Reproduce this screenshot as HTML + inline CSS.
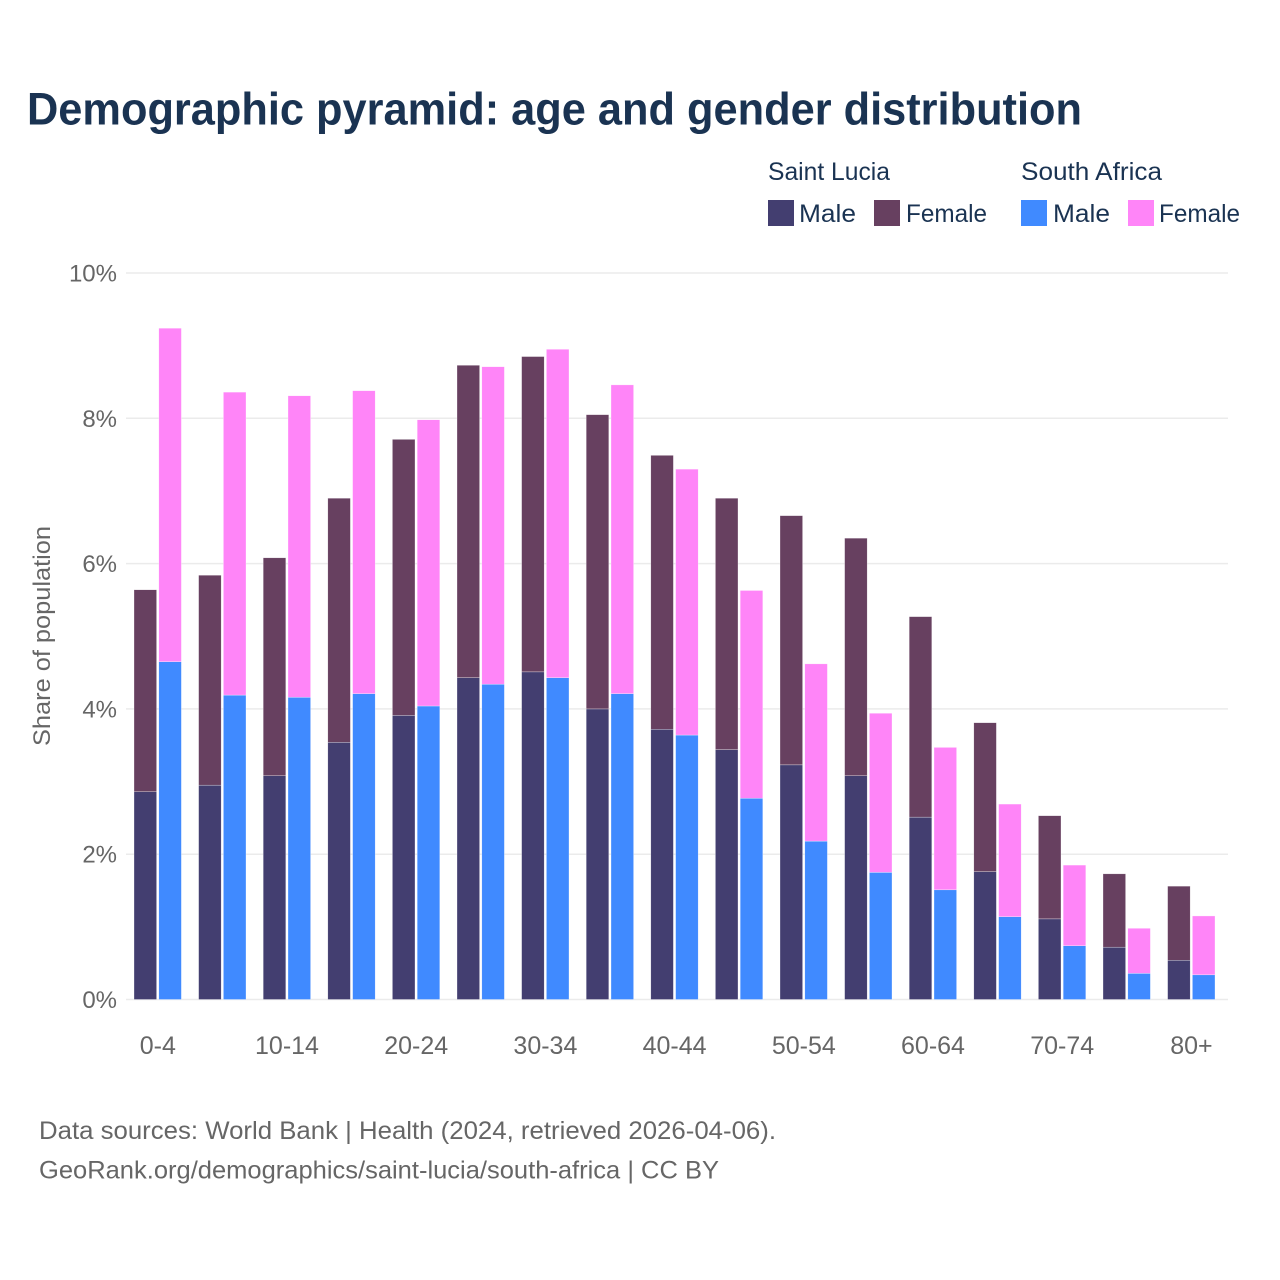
<!DOCTYPE html>
<html lang="en">
<head>
<meta charset="utf-8">
<title>Demographic pyramid</title>
<style>
html,body{margin:0;padding:0;background:#fff;width:1280px;height:1280px;overflow:hidden}
svg{display:block}
text{font-family:"Liberation Sans",sans-serif}
</style>
</head>
<body>
<svg id="chart" xmlns="http://www.w3.org/2000/svg" width="1280" height="1280" viewBox="0 0 1280 1280">
  <rect x="0" y="0" width="1280" height="1280" fill="#ffffff"/>
  <text x="27" y="124.5" font-size="45" font-weight="700" fill="#1a3352" textLength="1055" lengthAdjust="spacingAndGlyphs">Demographic pyramid: age and gender distribution</text>

  <g font-size="25" fill="#1a3352">
    <text x="768" y="180" textLength="122" lengthAdjust="spacingAndGlyphs">Saint Lucia</text>
    <text x="1021" y="180" textLength="141" lengthAdjust="spacingAndGlyphs">South Africa</text>
    <rect x="768" y="200" width="26" height="26" fill="#433e70"/>
    <text x="799" y="222" textLength="57" lengthAdjust="spacingAndGlyphs">Male</text>
    <rect x="874" y="200" width="26" height="26" fill="#674060"/>
    <text x="906" y="222" textLength="81" lengthAdjust="spacingAndGlyphs">Female</text>
    <rect x="1021" y="200" width="26" height="26" fill="#408aff"/>
    <text x="1053" y="222" textLength="57" lengthAdjust="spacingAndGlyphs">Male</text>
    <rect x="1128" y="200" width="26" height="26" fill="#ff85f8"/>
    <text x="1159" y="222" textLength="81" lengthAdjust="spacingAndGlyphs">Female</text>
  </g>

  <g id="grid"></g>
  <g id="yticks"></g>
  <g id="bars"></g>
  <g id="xticks"></g>

  <text transform="translate(50,746) rotate(-90)" x="0" y="0" font-size="24" fill="#666666" textLength="220" lengthAdjust="spacingAndGlyphs">Share of population</text>

  <text x="39" y="1139" font-size="25" fill="#666666" textLength="737" lengthAdjust="spacingAndGlyphs">Data sources: World Bank | Health (2024, retrieved 2026-04-06).</text>
  <text x="39" y="1178.5" font-size="25" fill="#666666" textLength="680" lengthAdjust="spacingAndGlyphs">GeoRank.org/demographics/saint-lucia/south-africa | CC BY</text>
</svg>
<script>
const categories = ["0-4","5-9","10-14","15-19","20-24","25-29","30-34","35-39","40-44","45-49","50-54","55-59","60-64","65-69","70-74","75-79","80+"];
const saintLuciaMale = [2.86,2.95,3.08,3.54,3.91,4.43,4.51,4.00,3.72,3.44,3.23,3.08,2.51,1.76,1.11,0.72,0.54];
const saintLuciaFemale = [2.78,2.89,3.00,3.36,3.80,4.30,4.34,4.05,3.77,3.46,3.43,3.27,2.76,2.05,1.42,1.01,1.02];
const southAfricaMale = [4.65,4.19,4.16,4.21,4.04,4.34,4.43,4.21,3.64,2.77,2.18,1.75,1.51,1.14,0.74,0.36,0.34];
const southAfricaFemale = [4.59,4.17,4.15,4.17,3.94,4.37,4.52,4.25,3.66,2.86,2.44,2.19,1.96,1.55,1.11,0.62,0.81];
const yTicks = [0,2,4,6,8,10];
const xTickLabels = ["0-4","10-14","20-24","30-34","40-44","50-54","60-64","70-74","80+"];

const SVG_NS = "http://www.w3.org/2000/svg";
const plot = { left: 126, right: 1228, y0: 999.5, y10: 273, first: 134, step: 64.6, barW: 22.6, pairGap: 24.8 };

function yScale(v) { return plot.y0 + (plot.y10 - plot.y0) * v / 10; }
function xScale(i) { return plot.first + plot.step * i; }

function make(tag, attrs, parent) {
  const el = document.createElementNS(SVG_NS, tag);
  for (const k in attrs) el.setAttribute(k, attrs[k]);
  parent.appendChild(el);
  return el;
}

const gridG = document.getElementById("grid");
const yG = document.getElementById("yticks");
yTicks.forEach(function (t) {
  const line = make("line", { x1: plot.left, x2: plot.right, y1: yScale(t), y2: yScale(t), stroke: "#ebebeb", "stroke-width": 1.5 }, gridG);
  
  
  const label = make("text", { x: 117, y: yScale(t) + 8.5, "text-anchor": "end", "font-size": 24, fill: "#666666" }, yG);
  
  
  label.textContent = t + "%";
});

const barsG = document.getElementById("bars");
function drawStack(x, low, high, lowColor, highColor) {
  const seg1 = make("rect", { x: x, y: yScale(low), width: plot.barW, height: yScale(0) - yScale(low), fill: lowColor, stroke: "#ffffff", "stroke-width": 0.5, "stroke-opacity": 0.6 }, barsG);
  
  
  const seg2 = make("rect", { x: x, y: yScale(low + high), width: plot.barW, height: yScale(low) - yScale(low + high), fill: highColor, stroke: "#ffffff", "stroke-width": 0.5, "stroke-opacity": 0.6 }, barsG);
  
  
}
categories.forEach(function (c, i) {
  drawStack(xScale(i), saintLuciaMale[i], saintLuciaFemale[i], "#433e70", "#674060");
  drawStack(xScale(i) + plot.pairGap, southAfricaMale[i], southAfricaFemale[i], "#408aff", "#ff85f8");
});

const xG = document.getElementById("xticks");
xTickLabels.forEach(function (lab) {
  const i = categories.indexOf(lab);
  const t = make("text", { x: xScale(i) + 23.8, y: 1054, "text-anchor": "middle", "font-size": 25, fill: "#666666" }, xG);
  
  
  t.textContent = lab;
});
</script>
</body>
</html>
